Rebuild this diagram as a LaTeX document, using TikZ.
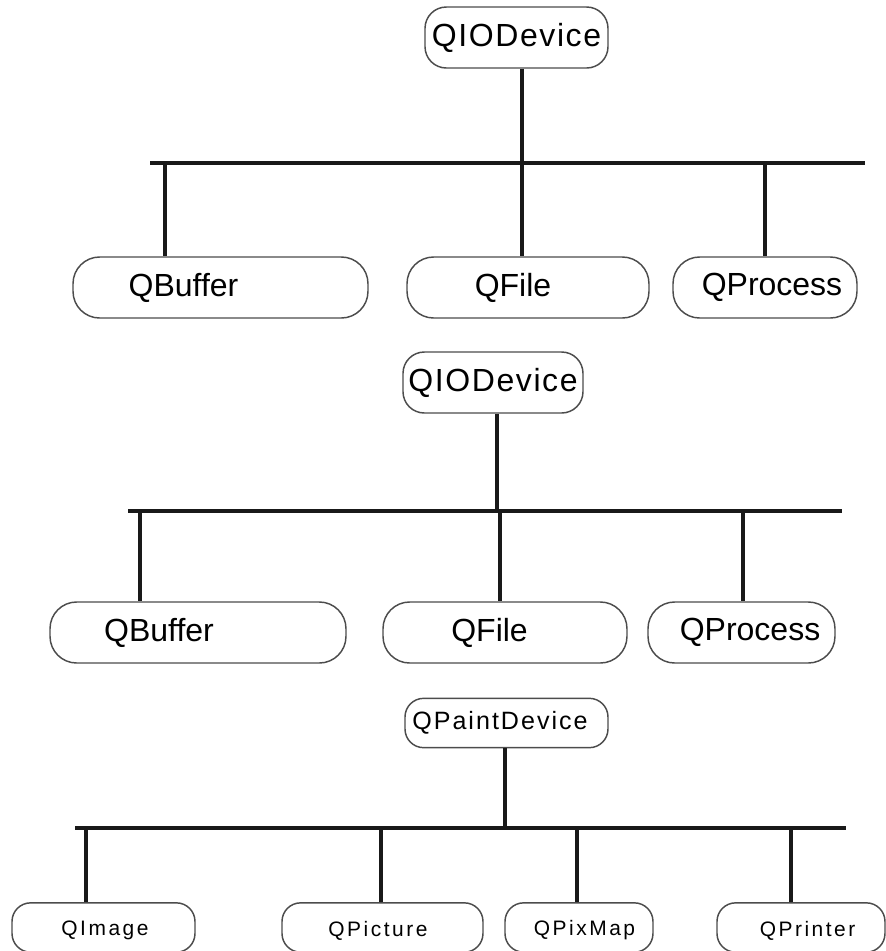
\documentclass[tikz,border=0pt]{standalone}
\usepackage{fontspec}
\setmainfont{Liberation Sans}
\newfontfamily\basefont{Liberation Sans}
\newfontfamily\rootfont[LetterSpace=5]{Liberation Sans}
\newfontfamily\paintfont[LetterSpace=8]{Liberation Sans}
\newfontfamily\leaffont[LetterSpace=12]{Liberation Sans}
\usepackage{tikz}

\begin{document}
\begin{tikzpicture}[x=0.75pt, y=-0.75pt,
  cls/.style={draw=black!70, line width=1.1pt, rounded corners=16pt, inner sep=0pt},
  big/.style={cls, minimum height=45.75pt, font=\rootfont\fontsize{24}{28}\selectfont},
  mid/.style={cls, minimum height=45.75pt, rounded corners=20pt},
  small/.style={cls, minimum height=37pt, rounded corners=14pt},
  midtxt/.style={font=\basefont\fontsize{24}{28}\selectfont, inner sep=0pt},
  leaftxt/.style={font=\leaffont\fontsize{15.7}{18}\selectfont, inner sep=0pt, yshift=-2.2pt},
  wire/.style={line width=2.3pt, black!90}]
\clip (0,0) rectangle (886,951);

% first tree
\node (io1) [big, minimum width=137.25pt] at (516.5,37.5) {QIODevice};
\coordinate (j1) at (522,163);
\coordinate (bus1l) at (150,163);
\coordinate (bus1r) at (865,163);
\node (buf1) [mid, minimum width=221.25pt, label={[midtxt, xshift=-27.75pt]center:QBuffer}] at (220.5,287.5) {};
\node (file1) [mid, minimum width=181.5pt, label={[midtxt, xshift=-11.25pt]center:QFile}] at (528,287.5) {};
\node (proc1) [mid, minimum width=138pt, label={[midtxt, xshift=5.25pt]center:QProcess}] at (765,287.5) {};
\coordinate (d1a) at (165,163);
\coordinate (d1b) at (522,163);
\coordinate (d1c) at (765,163);

\draw[wire] (io1.south -| j1) -- (j1);
\draw[wire] (bus1l) -- (bus1r);
\draw[wire] (d1a) -- (d1a |- buf1.north);
\draw[wire] (d1b) -- (d1b |- file1.north);
\draw[wire] (d1c) -- (d1c |- proc1.north);

% second tree
\node (io2) [big, minimum width=135pt] at (493,382.5) {QIODevice};
\coordinate (j2) at (497,511);
\coordinate (bus2l) at (128,511);
\coordinate (bus2r) at (842,511);
\node (buf2) [mid, minimum width=222pt, label={[midtxt, xshift=-29.25pt]center:QBuffer}] at (198,632.5) {};
\node (file2) [mid, minimum width=183pt, label={[midtxt, xshift=-11.6pt]center:QFile}] at (505,632.5) {};
\node (proc2) [mid, minimum width=140.25pt, label={[midtxt, xshift=6.4pt]center:QProcess}] at (741.5,632.5) {};
\coordinate (d2a) at (140,511);
\coordinate (d2b) at (500,511);
\coordinate (d2c) at (743,511);

\draw[wire] (io2.south -| j2) -- (j2);
\draw[wire] (bus2l) -- (bus2r);
\draw[wire] (d2a) -- (d2a |- buf2.north);
\draw[wire] (d2b) -- (d2b |- file2.north);
\draw[wire] (d2c) -- (d2c |- proc2.north);

% paint device tree
\node (pd) [small, minimum width=152.25pt, label={[font=\paintfont\fontsize{18.8}{22}\selectfont, inner sep=0pt, xshift=-4.9pt]center:QPaintDevice}] at (506.5,723) {};
\coordinate (j3) at (505,828);
\coordinate (bus3l) at (75,828);
\coordinate (bus3r) at (846,828);
\node (img) [small, minimum width=137.25pt, label={[leaftxt, xshift=1.1pt]center:QImage}] at (103.5,927.5) {};
\node (pic) [small, minimum width=150.75pt, label={[leaftxt, xshift=-3.4pt]center:QPicture}] at (382.5,927.5) {};
\node (pix) [small, minimum width=111pt, label={[leaftxt, xshift=4.1pt]center:QPixMap}] at (579,927.5) {};
\node (prn) [small, minimum width=126pt, label={[leaftxt, xshift=4.9pt]center:QPrinter}] at (801,927.5) {};
\coordinate (d3a) at (86,828);
\coordinate (d3b) at (381,828);
\coordinate (d3c) at (577,828);
\coordinate (d3d) at (791,828);

\draw[wire] (pd.south -| j3) -- (j3);
\draw[wire] (bus3l) -- (bus3r);
\draw[wire] (d3a) -- (d3a |- img.north);
\draw[wire] (d3b) -- (d3b |- pic.north);
\draw[wire] (d3c) -- (d3c |- pix.north);
\draw[wire] (d3d) -- (d3d |- prn.north);
\end{tikzpicture}
\end{document}
